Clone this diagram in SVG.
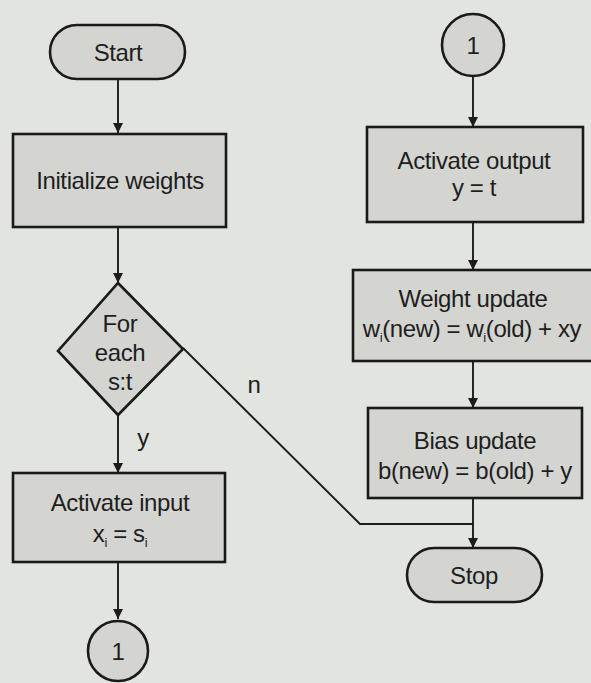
<svg xmlns="http://www.w3.org/2000/svg" width="591" height="683" viewBox="0 0 591 683">
  <defs>
    <marker id="arrow" viewBox="0 0 10 16" refX="10" refY="8" markerWidth="10" markerHeight="16" markerUnits="userSpaceOnUse" orient="auto">
      <path d="M0,3 L10,8 L0,13 Z" fill="#1c1c1c"/>
    </marker>
    <style>
      .shape { fill: #d4d5d1; stroke: #1a1a1a; stroke-width: 2.6; }
      .line { fill: none; stroke: #1c1c1c; stroke-width: 1.9; }
      text { font-family: "Liberation Sans", Arial, sans-serif; font-size: 24px; letter-spacing: -0.4px; fill: #1e1e1e; text-anchor: middle; }
      .sub { font-size: 13px; }
    </style>
  </defs>

  <rect x="0" y="0" width="591" height="683" fill="#e2e4df"/>

  <!-- connectors and branch labels -->
  <g id="connectors">
    <line class="line" x1="118" y1="79" x2="118" y2="133" marker-end="url(#arrow)"/>
    <line class="line" x1="118" y1="227" x2="118" y2="283" marker-end="url(#arrow)"/>
    <line class="line" x1="118" y1="415" x2="118" y2="473" marker-end="url(#arrow)"/>
    <line class="line" x1="118" y1="562" x2="118" y2="619" marker-end="url(#arrow)"/>
    <polyline class="line" points="183,348 360,524 473,524"/>
    <line class="line" x1="473" y1="76" x2="473" y2="127" marker-end="url(#arrow)"/>
    <line class="line" x1="473" y1="222" x2="473" y2="270" marker-end="url(#arrow)"/>
    <line class="line" x1="473" y1="361" x2="473" y2="408" marker-end="url(#arrow)"/>
    <line class="line" x1="473" y1="498" x2="473" y2="548" marker-end="url(#arrow)"/>
    <text x="143" y="446">y</text>
    <text x="254" y="393">n</text>
  </g>

  <g id="start">
    <rect class="shape" x="50" y="25" width="135" height="54" rx="27"/>
    <text x="118" y="61">Start</text>
  </g>

  <g id="init">
    <rect class="shape" x="13" y="134" width="213" height="93"/>
    <text x="120" y="189">Initialize weights</text>
  </g>

  <g id="decision">
    <polygon class="shape" points="118,283 183,349 118,415 58,351"/>
    <text x="120" y="332">For</text>
    <text x="120" y="361">each</text>
    <text x="120" y="390">s:t</text>
  </g>

  <g id="activate-input">
    <rect class="shape" x="13" y="473" width="212" height="89"/>
    <text x="120" y="511">Activate input</text>
    <text x="120" y="542">x<tspan class="sub" dy="5">i</tspan><tspan dy="-5"> = s</tspan><tspan class="sub" dy="5">i</tspan></text>
  </g>

  <g id="conn-out">
    <circle class="shape" cx="118" cy="651" r="30"/>
    <text x="118" y="660">1</text>
  </g>

  <g id="conn-in">
    <circle class="shape" cx="473" cy="45" r="31"/>
    <text x="473" y="54">1</text>
  </g>

  <g id="activate-output">
    <rect class="shape" x="367" y="127" width="216" height="95"/>
    <text x="474" y="169">Activate output</text>
    <text x="474" y="196">y = t</text>
  </g>

  <g id="weight-update">
    <rect class="shape" x="353" y="270" width="240" height="91"/>
    <text x="473" y="307">Weight update</text>
    <text x="472" y="337">w<tspan class="sub" dy="5">i</tspan><tspan dy="-5">(new) = w</tspan><tspan class="sub" dy="5">i</tspan><tspan dy="-5">(old) + xy</tspan></text>
  </g>

  <g id="bias-update">
    <rect class="shape" x="368" y="408" width="214" height="90"/>
    <text x="475" y="449">Bias update</text>
    <text x="475" y="479">b(new) = b(old) + y</text>
  </g>

  <g id="stop">
    <rect class="shape" x="407" y="548" width="135" height="54" rx="27"/>
    <text x="474" y="584">Stop</text>
  </g>
</svg>
